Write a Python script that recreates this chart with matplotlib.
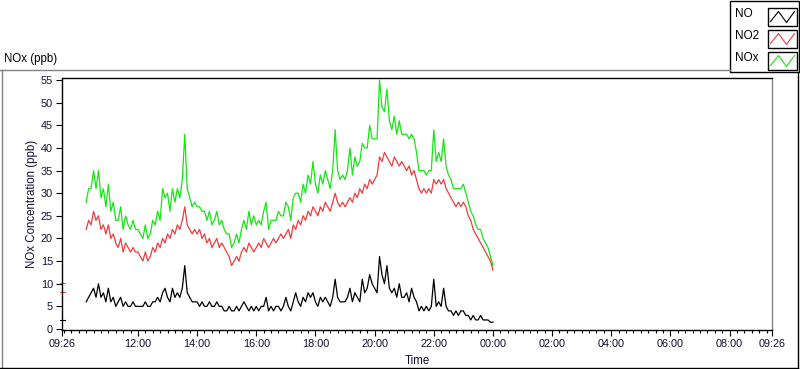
import matplotlib
matplotlib.use("Agg")
import matplotlib.pyplot as plt
import matplotlib.dates as mdates
from matplotlib.lines import Line2D
from matplotlib.patches import Rectangle
import pandas as pd

# readings every 5 minutes, 10:15 -> 00:00
first_reading = "2021-06-01 10:15"
axis_start = pd.Timestamp("2021-06-01 09:26")
axis_end = pd.Timestamp("2021-06-02 09:26")

no2 = [
    22, 24, 23, 26, 24, 25, 22, 23, 21,
    23, 20, 21, 19, 18, 20, 17, 19, 18, 17, 18, 17,
    17, 16, 15, 17, 15, 16, 18, 17, 19, 18, 20, 19,
    21, 20, 22, 21, 23, 22, 24, 27, 23, 22, 21, 22,
    21, 22, 20, 21, 19, 20, 18, 19, 20, 18, 19, 18,
    17, 16, 14, 15, 16, 15, 17, 18, 17, 19, 18, 17,
    18, 19, 18, 20, 19, 18, 19, 20, 19, 20, 21, 20,
    21, 22, 20, 23, 22, 24, 23, 25, 24, 26, 25, 27,
    26, 25, 27, 26, 28, 27, 26, 28, 30, 28, 27, 28,
    27, 28, 29, 28, 30, 29, 31, 30, 32, 31, 33, 32,
    33, 34, 38, 37, 39, 38, 37, 36, 38, 37, 36, 37,
    36, 35, 36, 34, 35, 33, 31, 30, 31, 30, 31, 30,
    33, 32, 33, 32, 33, 31, 30, 29, 28, 27, 28, 27,
    28, 27, 25, 24, 22, 21, 20, 19, 18, 17, 16, 15,
    13,
]
no = [
    6, 7, 8, 9, 7, 10, 7, 8, 6,
    9, 6, 7, 5, 6, 7, 5, 6, 5, 5, 6, 5,
    5, 5, 5, 6, 5, 5, 6, 6, 7, 6, 8, 9,
    7, 6, 9, 7, 8, 7, 9, 14, 8, 7, 6, 6,
    6, 5, 6, 5, 5, 6, 5, 5, 6, 5, 5, 4,
    4, 5, 4, 4, 5, 4, 5, 6, 5, 4, 5, 4,
    5, 4, 5, 5, 7, 4, 5, 4, 5, 5, 4, 5,
    7, 5, 4, 6, 8, 6, 5, 7, 6, 8, 7, 8,
    6, 5, 7, 6, 7, 6, 5, 7, 11, 7, 6, 6,
    6, 7, 9, 6, 8, 7, 6, 11, 8, 9, 12, 10,
    9, 8, 16, 12, 10, 14, 9, 8, 9, 7, 10, 7,
    7, 8, 6, 9, 7, 6, 4, 5, 4, 5, 4, 5,
    11, 5, 6, 5, 9, 5, 4, 4, 3, 4, 3, 4,
    4, 3, 3, 2, 3, 2, 2, 3, 2, 2, 2, 1.5,
    1.5,
]
nox = [
    28, 31, 31, 35, 31, 35, 29, 31, 27,
    32, 26, 28, 24, 24, 27, 22, 25, 23, 22, 24, 22,
    22, 21, 20, 23, 20, 21, 24, 23, 26, 24, 31, 29,
    30, 26, 31, 28, 31, 29, 33, 43, 31, 29, 27, 28,
    27, 27, 26, 26, 24, 26, 23, 24, 26, 23, 24, 22,
    21, 21, 18, 19, 21, 19, 22, 24, 22, 26, 23, 25,
    23, 24, 23, 26, 28, 22, 24, 24, 24, 26, 25, 25,
    28, 27, 24, 29, 30, 30, 28, 32, 30, 34, 32, 37,
    32, 30, 34, 32, 35, 33, 31, 35, 44, 35, 33, 34,
    33, 35, 40, 34, 38, 36, 37, 41, 40, 40, 45, 42,
    42, 42, 55, 49, 48, 53, 46, 44, 47, 43, 46, 43,
    43, 43, 42, 43, 42, 39, 35, 35, 35, 34, 35, 35,
    44, 37, 39, 37, 42, 36, 34, 33, 31, 31, 31, 31,
    32, 30, 28, 26, 25, 23, 22, 22, 20, 19, 18, 16,
    14,
]
series_names = ["NO", "NO2", "NOx"]
series_colors = ["#000000", "#f03c3c", "#14e614"]
axis_marks = [2.0, 8.2, 10.1]  # little coloured marks on the y axis
major_labels = ["09:26", "12:00", "14:00", "16:00", "18:00", "20:00",
                "22:00", "00:00", "02:00", "04:00", "06:00", "08:00", "09:26"]

times = pd.date_range(first_reading, periods=len(no), freq="5min")

W, H = 800, 369
fig = plt.figure(figsize=(W / 100, H / 100), dpi=100)
plt.rcParams["font.family"] = ["Liberation Sans", "DejaVu Sans"]


def fx(px):
    return px / W


def fy(py):
    return 1 - py / H


ax = fig.add_axes([fx(62), fy(330), fx(772 - 62), (330 - 78) / H])

# draw green first so red sits on top, like the original
for vals, c in zip([nox, no2, no], series_colors[::-1]):
    ax.plot(times, vals, color=c, lw=0.9)

ax.set_xlim(axis_start, axis_end)
ax.set_ylim(-0.22, 55.44)

# x ticks
major_pos = [axis_start] + [pd.Timestamp("2021-06-01 12:00") + pd.Timedelta(hours=2 * i) for i in range(11)] + [axis_end]
ax.set_xticks(major_pos)
ax.set_xticklabels(major_labels)
ax.xaxis.set_minor_locator(mdates.MinuteLocator(byminute=[0, 15, 30, 45]))
ax.set_yticks(range(0, 56, 5))

ax.tick_params(axis="both", which="major", length=4, width=0.8, labelsize=7.8, pad=2.5, color="black")
ax.tick_params(axis="x", which="minor", length=2.2, width=0.8, color="black")
for lbl in ax.get_xticklabels() + ax.get_yticklabels():
    lbl.set_color("#101030")

for side in ["left", "top", "bottom"]:
    ax.spines[side].set_color("black")
    ax.spines[side].set_linewidth(1.0)
ax.spines["right"].set_color("#808080")
ax.spines["right"].set_linewidth(1.0)

for lvl, c in zip(axis_marks, series_colors):
    ax.plot([-0.003, 0.004], [lvl, lvl], color=c, lw=0.8,
            transform=ax.get_yaxis_transform(), clip_on=False)

# texts
fig.text(fx(4), fy(59), "NOx (ppb)", fontsize=8.3, va="center", ha="left")
fig.text(fx(32), fy(204), "NOx Concentration (ppb)", fontsize=8.3, rotation=90,
         va="center", ha="center", color="#101030")
fig.text(fx(417), fy(361), "Time", fontsize=8.3, va="center", ha="center", color="#101030")

# sunken frame around the graph
fig.add_artist(Line2D([fx(0), fx(730)], [fy(69.5), fy(69.5)], color="#808080", lw=1))
fig.add_artist(Line2D([fx(1.5), fx(1.5)], [fy(69.5), fy(368)], color="#808080", lw=1))
fig.add_artist(Line2D([fx(0), fx(798)], [fy(367.8), fy(367.8)], color="black", lw=1))
fig.add_artist(Line2D([fx(797.5), fx(797.5)], [fy(72), fy(368)], color="black", lw=1))

# legend panel
fig.add_artist(Rectangle((fx(730), fy(72)), fx(798.5 - 730), (72 - 0.5) / H,
                         transform=fig.transFigure, fill=True, facecolor="white",
                         edgecolor="black", lw=1))
text_y = [14, 36, 58]
box_top = [8.5, 30.5, 52.5]
for name, c, ty, bt in zip(series_names, series_colors, text_y, box_top):
    fig.text(fx(735), fy(ty), name, fontsize=8.5, va="center", ha="left")
    bx0, bx1, by0, by1 = 767.5, 797, bt, bt + 17
    fig.add_artist(Rectangle((fx(bx0), fy(by1)), fx(bx1 - bx0), (by1 - by0) / H,
                             transform=fig.transFigure, fill=False,
                             edgecolor="black", lw=1))
    zx = [bx0 + 3, bx0 + 11, bx0 + 19, bx0 + 27]
    zy = [by1 - 4, by0 + 3, by1 - 3, by0 + 3]
    fig.add_artist(Line2D([fx(v) for v in zx], [fy(v) for v in zy], color=c, lw=0.8))

fig.savefig("out.png", dpi=100)
